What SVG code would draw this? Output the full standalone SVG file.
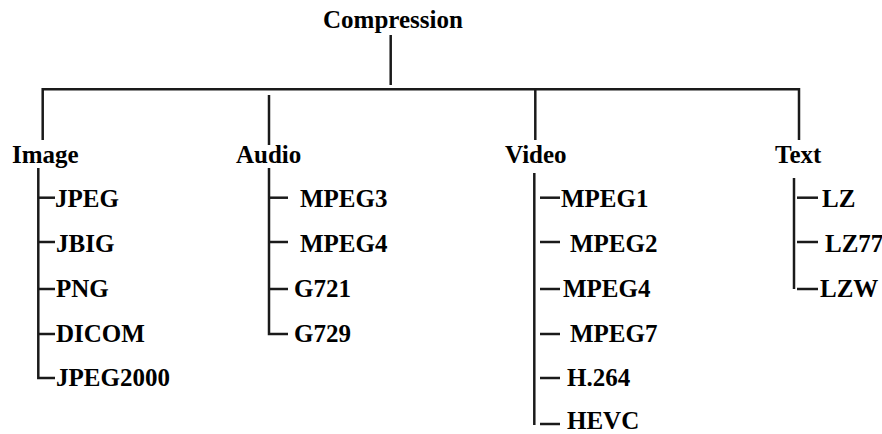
<svg xmlns="http://www.w3.org/2000/svg" width="882" height="434" viewBox="0 0 882 434">
<style>
.t{font-family:'Liberation Serif','Times New Roman',Times,serif;font-weight:700;font-size:25px;fill:#000}
.c line,.c path{stroke:#1a1a1a;stroke-width:2.5;fill:none}
</style>
<rect width="882" height="434" fill="#fff"/>
<g class="c" id="connectors">
<line x1="390.7" y1="35" x2="390.7" y2="85"/>
<path d="M42.7 140 V89.3 H799 V140"/>
<line x1="269" y1="95" x2="269" y2="145"/>
<line x1="535.3" y1="89.3" x2="535.3" y2="140"/>
<path d="M38.3 168 V378 H55"/>
<line x1="38.3" y1="197.7" x2="55" y2="197.7"/>
<line x1="38.3" y1="242" x2="55" y2="242"/>
<line x1="38.3" y1="289" x2="55" y2="289"/>
<line x1="38.3" y1="334" x2="55" y2="334"/>
<path d="M269 168 V334 H288"/>
<line x1="269" y1="197.7" x2="288" y2="197.7"/>
<line x1="269" y1="242" x2="288" y2="242"/>
<line x1="269" y1="289" x2="288" y2="289"/>
<line x1="534.3" y1="173" x2="534.3" y2="425"/>
<line x1="540" y1="197.7" x2="560" y2="197.7"/>
<line x1="540" y1="242" x2="560" y2="242"/>
<line x1="540" y1="289" x2="560" y2="289"/>
<line x1="540" y1="334" x2="560" y2="334"/>
<line x1="540" y1="378" x2="560" y2="378"/>
<line x1="540" y1="424" x2="560" y2="424"/>
<line x1="794" y1="178" x2="794" y2="289"/>
<line x1="797" y1="197.7" x2="818" y2="197.7"/>
<line x1="797" y1="242" x2="818" y2="242"/>
<line x1="797" y1="289" x2="818" y2="289"/>
</g>
<g id="compression"><text class="t" font-family="Liberation Serif" x="323" y="28">Compression</text></g>
<g id="image"><text class="t" x="12" y="163">Image</text></g>
<g id="audio"><text class="t" x="236" y="163">Audio</text></g>
<g id="video"><text class="t" x="505" y="163">Video</text></g>
<g id="text"><text class="t" x="775" y="163">Text</text></g>
<g id="jpeg"><text class="t" x="55" y="207">JPEG</text></g>
<g id="jbig"><text class="t" x="56" y="252">JBIG</text></g>
<g id="png"><text class="t" x="56" y="297">PNG</text></g>
<g id="dicom"><text class="t" x="56" y="342">DICOM</text></g>
<g id="jpeg2000"><text class="t" x="56" y="386">JPEG2000</text></g>
<g id="mpeg3"><text class="t" x="300" y="207">MPEG3</text></g>
<g id="mpeg4a"><text class="t" x="300" y="252">MPEG4</text></g>
<g id="g721"><text class="t" x="294" y="297">G721</text></g>
<g id="g729"><text class="t" x="294" y="342">G729</text></g>
<g id="mpeg1"><text class="t" x="561" y="207">MPEG1</text></g>
<g id="mpeg2"><text class="t" x="570" y="252">MPEG2</text></g>
<g id="mpeg4v"><text class="t" x="563" y="297">MPEG4</text></g>
<g id="mpeg7"><text class="t" x="570" y="342">MPEG7</text></g>
<g id="h264"><text class="t" x="567" y="386">H.264</text></g>
<g id="hevc"><text class="t" x="567" y="429">HEVC</text></g>
<g id="lz"><text class="t" x="822" y="207">LZ</text></g>
<g id="lz77"><text class="t" x="825" y="252">LZ77</text></g>
<g id="lzw"><text class="t" x="820" y="297">LZW</text></g>
</svg>
